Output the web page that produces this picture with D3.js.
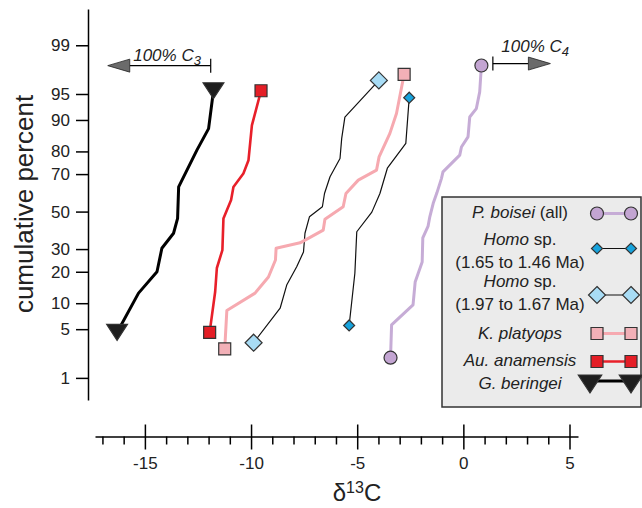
<!DOCTYPE html>
<html>
<head>
<meta charset="utf-8">
<script src="https://cdn.jsdelivr.net/npm/d3@7"></script>
<style>
  body { margin: 0; background: #fff; }
  text { font-family: "Liberation Sans", Arial, sans-serif; fill: #222; }
</style>
</head>
<body>
<script>
// delta 13C values and cumulative percent (line vertices)
var boiseiD13C = [-3.43, -3.38, -2.37, -2.27, -1.94, -1.91, -1.66, -1.58, -1.42, -1.25, -1.03, -0.96, -0.17, -0.09, 0.22, 0.30, 0.61, 0.77, 0.85];
var boiseiPct  = [2.05, 5.65, 9.58, 16.2, 24.0, 35.6, 42.0, 47.1, 54.6, 60.2, 67.9, 71.1, 78.5, 81.7, 85.2, 90.7, 92.5, 95.3, 97.95];

var homoLateD13C = [-5.38, -5.11, -5.02, -4.31, -3.93, -3.58, -2.71, -2.55];
var homoLatePct  = [5.56, 19.4, 38.9, 49.7, 60.0, 72.8, 83.0, 94.44];

var homoEarlyD13C = [-9.88, -8.63, -8.32, -7.85, -7.53, -7.46, -7.25, -6.64, -6.54, -6.28, -5.81, -5.73, -5.58, -3.98];
var homoEarlyPct  = [3.33, 8.82, 15.2, 22.0, 28.6, 38.1, 47.1, 52.7, 60.0, 68.7, 77.1, 84.7, 90.7, 96.67];

var platyopsD13C = [-11.24, -11.14, -9.81, -9.18, -8.85, -8.82, -7.69, -6.60, -6.52, -5.66, -5.53, -4.95, -4.09, -3.97, -3.46, -3.15, -2.79];
var platyopsPct  = [2.74, 8.33, 12.7, 18.0, 24.9, 30.4, 33.1, 39.8, 45.7, 52.7, 60.0, 67.0, 71.9, 77.8, 86.3, 91.5, 97.26];

var anamensisD13C = [-11.95, -11.69, -11.61, -11.35, -11.30, -10.94, -10.83, -10.36, -10.12, -9.96, -9.53];
var anamensisPct  = [4.55, 13.1, 21.5, 29.5, 46.2, 56.4, 63.5, 70.3, 76.4, 88.6, 95.45];

var beringeiD13C = [-16.31, -15.30, -14.43, -14.20, -13.65, -13.46, -13.41, -12.55, -12.00, -11.77];
var beringeiPct  = [4.55, 12.7, 20.0, 30.4, 38.1, 46.2, 63.5, 80.5, 87.7, 95.45];

var xTicks = [-15, -10, -5, 0, 5];
var yTicks = [1, 5, 10, 20, 30, 50, 70, 80, 90, 95, 99];

// end-member arrows (delta 13C of bar, delta 13C of arrow tip, percent level)
var c3Arrow = { bar: -11.9, tip: -16.75, pct: 97.94, labelX: -15.55, labelDy: -5 };
var c4Arrow = { bar: 1.39, tip: 4.1, pct: 98.08, labelX: 1.79, labelDy: -11.5 };

// inverse normal cdf (Acklam)
function probit(p) {
    var a = [-3.969683028665376e+01, 2.209460984245205e+02, -2.759285104469687e+02, 1.383577518672690e+02, -3.066479806614716e+01, 2.506628277459239e+00];
    var b = [-5.447609879822406e+01, 1.615858368580409e+02, -1.556989798598866e+02, 6.680131188771972e+01, -1.328068155288572e+01];
    var c = [-7.784894002430293e-03, -3.223964580411365e-01, -2.400758277161838e+00, -2.549732539343734e+00, 4.374664141464968e+00, 2.938163982698783e+00];
    var d = [7.784695709041462e-03, 3.224671290700398e-01, 2.445134137142996e+00, 3.754408661907416e+00];
    var plow = 0.02425, q, r;
    if (p < plow) {
        q = Math.sqrt(-2 * Math.log(p));
        return (((((c[0]*q+c[1])*q+c[2])*q+c[3])*q+c[4])*q+c[5]) / ((((d[0]*q+d[1])*q+d[2])*q+d[3])*q+1);
    }
    if (p > 1 - plow) {
        q = Math.sqrt(-2 * Math.log(1 - p));
        return -(((((c[0]*q+c[1])*q+c[2])*q+c[3])*q+c[4])*q+c[5]) / ((((d[0]*q+d[1])*q+d[2])*q+d[3])*q+1);
    }
    q = p - 0.5; r = q * q;
    return (((((a[0]*r+a[1])*r+a[2])*r+a[3])*r+a[4])*r+a[5])*q / (((((b[0]*r+b[1])*r+b[2])*r+b[3])*r+b[4])*r+1);
}

var svg = d3.select("body").append("svg")
    .attr("width", 642)
    .attr("height", 508);

// scales
var x = d3.scaleLinear().domain([-17.35, 5.4]).range([95, 578]);
var yz = d3.scaleLinear().domain([probit(0.0042), probit(0.9977)]).range([400, 9]);
function y(pct) { return yz(probit(pct / 100)); }

// marker shapes (s = half size)
function markerPath(type, s) {
    if (type === "square") return "M" + (-s) + "," + (-s) + "H" + s + "V" + s + "H" + (-s) + "Z";
    if (type === "diamond") return "M0," + (-s) + "L" + s + ",0L0," + s + "L" + (-s) + ",0Z";
    if (type === "triangle") return "M" + (-s * 1.3) + "," + (-s) + "H" + (s * 1.3) + "L0," + s + "Z";
}

var series = [
    { label: [["P. boisei", true], [" (all)", false]], xs: boiseiD13C, ps: boiseiPct,
      line: "#c6acd6", lw: 3, marker: "circle", size: 6.5, fill: "#c3a5d2" },
    { label: [["Homo", true], [" sp.", false]], label2: "(1.65 to 1.46 Ma)", xs: homoLateD13C, ps: homoLatePct,
      line: "#111", lw: 1.2, marker: "diamond", size: 5.5, fill: "#17a3dd" },
    { label: [["Homo", true], [" sp.", false]], label2: "(1.97 to 1.67 Ma)", xs: homoEarlyD13C, ps: homoEarlyPct,
      line: "#111", lw: 1.2, marker: "diamond", size: 8.5, fill: "#a8dcf5" },
    { label: [["K. platyops", true]], xs: platyopsD13C, ps: platyopsPct,
      line: "#f6a9b0", lw: 3, marker: "square", size: 6, fill: "#f2b0b7" },
    { label: [["Au. anamensis", true]], xs: anamensisD13C, ps: anamensisPct,
      line: "#e8202a", lw: 2.6, marker: "square", size: 6, fill: "#e41e26" },
    { label: [["G. beringei", true]], xs: beringeiD13C, ps: beringeiPct,
      line: "#000", lw: 3, marker: "triangle", size: 8, fill: "#1e1e1e" }
];

// axes
var xg = svg.append("g").attr("transform", "translate(0,436.5)");
xg.append("g")
    .call(d3.axisBottom(x).tickValues(d3.range(-17, 6).filter(function (v) { return v % 5 !== 0; }))
        .tickSize(8).tickFormat("").tickSizeOuter(0))
    .call(function (g) { g.select(".domain").remove(); });
xg.append("g")
    .call(d3.axisBottom(x).tickValues(xTicks).tickSize(13).tickPadding(7).tickSizeOuter(0)
        .tickFormat(function (d) { return String(d); }))
    .call(function (g) { g.selectAll(".tick line").attr("y1", -12); });
xg.selectAll("path, line").attr("stroke", "#000").attr("stroke-width", 1.5);
xg.selectAll("text").attr("font-size", 17).attr("font-family", "'Liberation Sans', Arial, sans-serif").attr("fill", "#222");

var yg = svg.append("g").attr("transform", "translate(88,0)")
    .call(d3.axisLeft(yz).tickValues(yTicks.map(function (p) { return probit(p / 100); }))
        .tickFormat(function (d, i) { return yTicks[i]; })
        .tickSize(12).tickPadding(6).tickSizeOuter(0));
yg.selectAll("path, line").attr("stroke", "#000").attr("stroke-width", 1.5);
yg.selectAll("text").attr("font-size", 17).attr("font-family", "'Liberation Sans', Arial, sans-serif").attr("fill", "#222");

// axis titles
svg.append("text")
    .attr("transform", "translate(33,204) rotate(-90)")
    .attr("text-anchor", "middle")
    .attr("font-size", 26)
    .text("cumulative percent");

var xt = svg.append("text").attr("x", 357).attr("y", 501).attr("text-anchor", "middle").attr("font-size", 24);
xt.append("tspan").text("\u03B4");
xt.append("tspan").attr("font-size", 16).attr("dy", -8).text("13");
xt.append("tspan").attr("dy", 8).text("C");

// lines
var line = d3.line()
    .x(function (d) { return x(d.x); })
    .y(function (d) { return y(d.p); });

function drawMarker(g, s, cx, cy) {
    if (s.marker === "circle") {
        g.append("circle").attr("cx", cx).attr("cy", cy).attr("r", s.size)
            .attr("fill", s.fill).attr("stroke", "#333").attr("stroke-width", 1.2);
    } else {
        g.append("path").attr("d", markerPath(s.marker, s.size))
            .attr("transform", "translate(" + cx + "," + cy + ")")
            .attr("fill", s.fill).attr("stroke", "#333").attr("stroke-width", 1.2);
    }
}

series.forEach(function (s) {
    var pts = s.xs.map(function (v, i) { return { x: v, p: s.ps[i] }; });
    svg.append("path")
        .datum(pts)
        .attr("d", line)
        .attr("fill", "none")
        .attr("stroke", s.line)
        .attr("stroke-width", s.lw)
        .attr("stroke-linejoin", "round");
});
series.forEach(function (s) {
    var n = s.xs.length - 1;
    drawMarker(svg, s, x(s.xs[0]), y(s.ps[0]));
    drawMarker(svg, s, x(s.xs[n]), y(s.ps[n]));
});

// C3 / C4 arrows
function arrow(a, label, sub) {
    var g = svg.append("g");
    var yy = y(a.pct), xb = x(a.bar), xtip = x(a.tip);
    var dir = xtip < xb ? -1 : 1;
    var xh = xtip - dir * 22;
    g.append("line").attr("x1", xb).attr("x2", xh).attr("y1", yy).attr("y2", yy)
        .attr("stroke", "#000").attr("stroke-width", 1.2);
    g.append("line").attr("x1", xb).attr("x2", xb).attr("y1", yy - 7).attr("y2", yy + 7)
        .attr("stroke", "#000").attr("stroke-width", 1.2);
    g.append("path")
        .attr("d", "M" + xtip + "," + yy + "L" + xh + "," + (yy - 6.5) + "L" + xh + "," + (yy + 6.5) + "Z")
        .attr("fill", "#6b6b6b").attr("stroke", "#222").attr("stroke-width", 0.8);
    var t = g.append("text").attr("x", x(a.labelX)).attr("y", yy + a.labelDy)
        .attr("font-size", 17).attr("font-style", "italic");
    t.append("tspan").text(label);
    t.append("tspan").attr("font-size", 13).attr("dy", 4).text(sub);
}
arrow(c3Arrow, "100% C", "3");
arrow(c4Arrow, "100% C", "4");

// legend
var lg = svg.append("g");
lg.append("rect").attr("x", 442).attr("y", 197).attr("width", 199).attr("height", 210)
    .attr("fill", "#ebebeb").attr("stroke", "#333").attr("stroke-width", 1.5);

var rows = [
    { text: [217.5], sym: 213.5 },
    { text: [245, 267.5], sym: 248.5 },
    { text: [287, 310], sym: 295 },
    { text: [338.5], sym: 333.5 },
    { text: [366], sym: 361.5 },
    { text: [388.5], sym: 381 }
];

series.forEach(function (s, i) {
    var r = rows[i];
    var t = lg.append("text").attr("x", 520).attr("y", r.text[0])
        .attr("text-anchor", "middle").attr("font-size", 17);
    s.label.forEach(function (part) {
        t.append("tspan").attr("font-style", part[1] ? "italic" : "normal").text(part[0]);
    });
    if (s.label2) {
        lg.append("text").attr("x", 520).attr("y", r.text[1])
            .attr("text-anchor", "middle").attr("font-size", 17).text(s.label2);
    }
    var x1 = s.marker === "triangle" ? 590 : 597, x2 = 631;
    lg.append("line").attr("x1", x1).attr("x2", x2).attr("y1", r.sym).attr("y2", r.sym)
        .attr("stroke", s.line).attr("stroke-width", s.lw);
    var ls = Object.assign({}, s, { size: s.marker === "triangle" ? 9 : s.size });
    drawMarker(lg, ls, x1, r.sym + (s.marker === "triangle" ? 3 : 0));
    drawMarker(lg, ls, x2, r.sym + (s.marker === "triangle" ? 3 : 0));
});
</script>
</body>
</html>
